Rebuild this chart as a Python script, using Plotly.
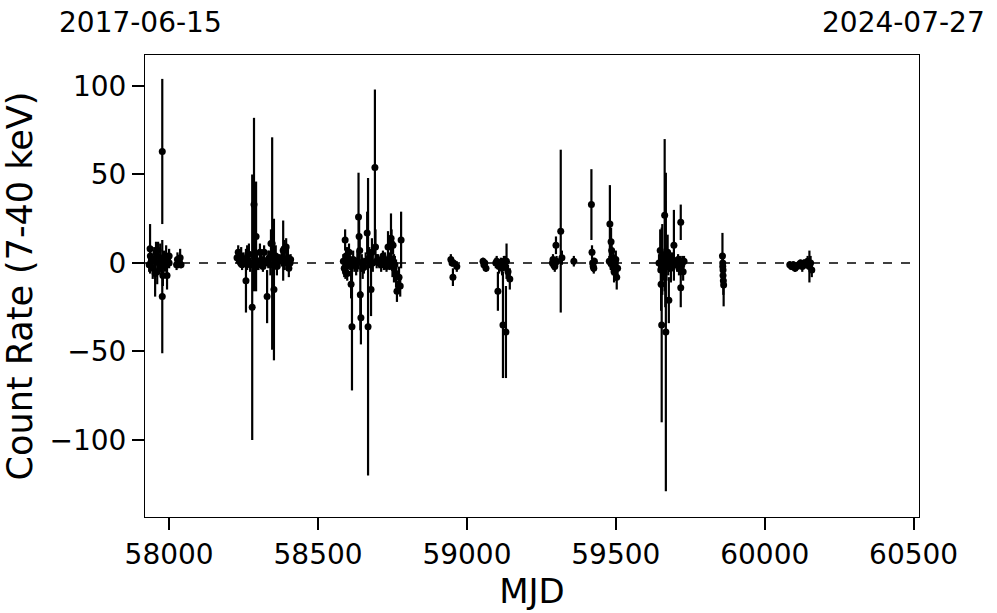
import plotly.graph_objects as go

# MJD, count rate (7-40 keV), 1-sigma error
mjd = [
    57933, 57936, 57937, 57940, 57945, 57950, 57953, 57956, 57960, 57963, 57966, 57970, 57974, 57977, 57977,
    57979, 57983, 57986, 57990, 57993, 57996, 58000, 58000, 58025, 58028, 58031, 58034, 58037, 58040,
    58228, 58232, 58236, 58240, 58242, 58245, 58250, 58258, 58262, 58268, 58272, 58279, 58282, 58285, 58287,
    58290, 58292, 58295, 58300, 58305, 58310, 58315, 58319, 58322, 58329, 58333, 58336, 58340, 58342, 58346,
    58352, 58358, 58362, 58370, 58378, 58383, 58386, 58388, 58393, 58396, 58399, 58402, 58406, 58408,
    58585, 58588, 58591, 58592, 58594, 58596, 58598, 58601, 58604, 58608, 58611, 58614, 58618, 58622, 58628,
    58632, 58636, 58638, 58640, 58642, 58644, 58647, 58650, 58654, 58660, 58665, 58668, 58672, 58678, 58681,
    58684, 58691, 58693, 58697, 58701, 58706, 58712, 58718, 58721, 58725, 58730, 58735, 58740, 58745, 58747,
    58750, 58752, 58755, 58758, 58762, 58765, 58772, 58776, 58779,
    58946, 58950, 58953, 58955, 58966,
    59054, 59057, 59060, 59064,
    59097, 59100, 59104, 59108, 59111, 59114, 59118, 59121, 59124, 59128, 59131, 59133, 59138, 59144,
    59287, 59289, 59291, 59293, 59295, 59297, 59299, 59301, 59315, 59319,
    59359,
    59418, 59420, 59422, 59424, 59426, 59428,
    59478, 59480, 59483, 59484, 59486, 59490, 59492, 59494, 59496, 59498, 59500, 59503, 59506,
    59645, 59649, 59651, 59652, 59654, 59656, 59658, 59664, 59666, 59668, 59670, 59674, 59676, 59678, 59682,
    59685, 59689, 59695, 59703, 59706, 59709, 59712, 59715, 59718, 59718, 59720, 59723, 59726, 59729,
    59858, 59859, 59859, 59860, 59860, 59861, 59862,
    60084, 60090, 60096, 60102, 60108, 60114, 60120, 60126, 60132, 60138, 60144, 60150, 60154, 60158,
]
rate = [
    -1, 8, 4, 1, -3, 2, -6, 6, -5, 7, 0, 3, -2, 63, -19,
    -7, 2, -1, 4, -7, 1, 4, 0, -1, 2, 0, 1, 3, -1,
    3, 6, 1, 0, 4, -1, 2, -10, 3, 5, -1, -25, 0, 33, 3,
    -2, 15, 1, -1, 6, 2, -2, 6, 0, -19, 2, 3, -1, 11, 11,
    -15, 4, -2, 1, 3, 7, 8, 0, 9, 2, 3, -3, 0, 2,
    1, -3, 13, -5, 4, -2, -6, 3, 6, 0, -12, -36, 2, -1, -2,
    1, 26, 15, 7, -18, -31, 0, -3, -2, 1, 17, -36, 3, -15, 6,
    0, 54, 9, 1, 2, 0, -1, 4, -1, 2, -2, 9, 1, 14, 11,
    -2, 10, -3, -1, -6, -16, -8, -13, 13,
    2, 0, -8, 0, -2,
    1, -1, 0, -3,
    0, 1, -16, -2, -1, 0, -3, -35, 1, 0, -39, 1, -5, -9,
    0, 2, -1, 1, -2, 0, 10, 1, 18, 3,
    1,
    33, 6, 0, -2, -3, 1,
    1, 22, 0, 12, 7, -2, 3, -5, -1, -4, 2, -8, -3,
    0, 7, -4, -12, -35, 2, -2, 27, 5, -39, 0, 6, -1, -21, 0,
    -3, 1, 10, 0, -1, 2, -3, 1, 23, -14, -2, 0, -5, 1,
    4, 0, -2, -4, -7, -10, -12.5,
    -1, -2, -1, -3, -2, -1, 0, -2, 0, -1, 1, -2, 0, -4,
]
rate_err = [
    4, 14, 5, 3, 6, 7, 13, 6, 7, 5, 5, 8, 4, 41, 32,
    6, 5, 4, 6, 8, 3, 4, 3, 3, 4, 3, 3, 5, 2,
    3, 4, 3, 2, 5, 3, 4, 18, 7, 6, 4, 75, 8, 49, 10,
    8, 31, 5, 3, 5, 4, 3, 4, 3, 15, 5, 4, 6, 8, 60,
    40, 6, 5, 4, 5, 17, 5, 4, 5, 4, 6, 5, 4, 3,
    4, 5, 6, 4, 5, 6, 4, 6, 5, 4, 8, 36, 5, 4, 5,
    6, 25, 12, 8, 20, 15, 5, 6, 4, 5, 12, 84, 6, 15, 8,
    5, 44, 10, 4, 3, 3, 4, 3, 3, 4, 3, 9, 5, 14, 8,
    6, 5, 8, 5, 8, 6, 6, 6, 16,
    3, 2, 5, 2, 3,
    2, 2, 2, 2,
    3, 3, 11, 4, 3, 3, 4, 30, 3, 4, 26, 10, 4, 6,
    3, 3, 3, 2, 3, 2, 5, 3, 46, 4,
    3,
    20, 4, 3, 3, 3, 2,
    3, 22, 4, 8, 6, 5, 4, 6, 4, 6, 5, 7, 4,
    5, 12, 10, 15, 55, 20, 8, 43, 30, 90, 10, 10, 6, 13, 5,
    8, 5, 20, 3, 4, 3, 4, 3, 10, 11, 3, 4, 5, 3,
    13, 5, 4, 5, 6, 8, 12,
    2, 2, 2, 2, 2, 2, 2, 3, 2, 2, 3, 9, 4, 4,
]

x_range = [57919, 60518]
y_range = [-143.5, 117.5]
x_ticks = [58000, 58500, 59000, 59500, 60000, 60500]
y_ticks = [-100, -50, 0, 50, 100]
start_label = "2017-06-15"
end_label = "2024-07-27"

FONT = "DejaVu Sans"

fig = go.Figure()
fig.add_trace(go.Scatter(
    x=mjd, y=rate, mode="markers",
    marker=dict(color="black", size=7),
    error_y=dict(type="data", array=rate_err, visible=True, color="black", thickness=2.2, width=0),
    showlegend=False,
))

fig.add_shape(type="line", xref="paper", yref="y", x0=0, x1=1, y0=0, y1=0,
              line=dict(color="black", width=1.5, dash="dash"), layer="above")

axis_common = dict(
    showgrid=False, zeroline=False, showline=True, linecolor="black", linewidth=1,
    mirror=True, ticks="outside", ticklen=12, tickwidth=2, tickcolor="black",
    tickfont=dict(family=FONT, size=28, color="black"),
)

fig.update_xaxes(range=x_range, tickvals=x_ticks, ticktext=[str(v) for v in x_ticks],
                 title=dict(text="MJD", font=dict(family=FONT, size=34, color="black"), standoff=4),
                 **axis_common)
fig.update_yaxes(range=y_range, tickvals=y_ticks,
                 ticktext=[("\u2212" + str(-v)) if v < 0 else str(v) for v in y_ticks],
                 title=dict(text="Count Rate (7-40 keV)", font=dict(family=FONT, size=35, color="black"), standoff=6),
                 **axis_common)

fig.add_annotation(text=start_label, xref="paper", yref="paper", x=0, y=1.0, yshift=33, xshift=-88,
                   xanchor="left", yanchor="middle", showarrow=False,
                   font=dict(family=FONT, size=28, color="black"))
fig.add_annotation(text=end_label, xref="paper", yref="paper", x=1.0, y=1.0, yshift=33, xshift=68,
                   xanchor="right", yanchor="middle", showarrow=False,
                   font=dict(family=FONT, size=28, color="black"))

fig.update_layout(
    width=997, height=613,
    margin=dict(l=145, r=78, t=55, b=96),
    plot_bgcolor="white", paper_bgcolor="white",
    font=dict(family=FONT, color="black"),
)

fig.write_html("out.html", config={"displayModeBar": False},
               post_script="document.body.style.margin='0';")
